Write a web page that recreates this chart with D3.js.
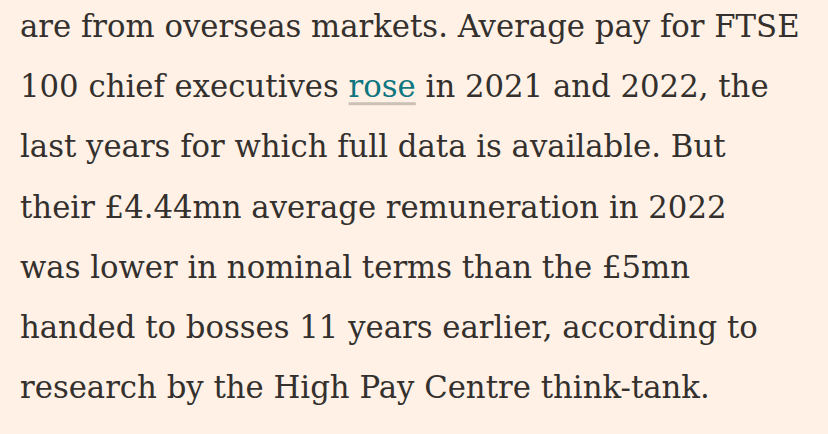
<!DOCTYPE html>
<html>
<head>
<meta charset="utf-8">
<script src="https://cdn.jsdelivr.net/npm/d3@7"></script>
<style>
  html, body { margin: 0; padding: 0; background: #FFF1E5; }
</style>
</head>
<body>
<script>
// Paragraph lines; the link word is marked separately
const lines = [
  'are from overseas markets. Average pay for FTSE',
  '100 chief executives |rose| in 2021 and 2022, the',
  'last years for which full data is available. But',
  'their £4.44mn average remuneration in 2022',
  'was lower in nominal terms than the £5mn',
  'handed to bosses 11 years earlier, according to',
  'research by the High Pay Centre think-tank.'
];
const lineIndex = d3.range(lines.length);

const width = 828;
const height = 434;
const left = 20;
const firstLineWidth = 780;

const y = d3.scaleLinear().domain([0, 1]).range([37, 97.2]);

const svg = d3.select('body')
  .append('svg')
  .attr('width', width)
  .attr('height', height)
  .style('display', 'block');

const fontFamily = 'Georgia, "DejaVu Serif", serif';

// measure the first line to find a font size that spans the same width
const probe = svg.append('text')
  .style('font-family', fontFamily)
  .style('font-size', '30px')
  .text(lines[0]);
const fontSize = 30 * firstLineWidth / probe.node().getComputedTextLength();
probe.remove();

const text = svg.append('g')
  .style('font-family', fontFamily)
  .style('font-size', fontSize + 'px')
  .style('fill', '#33302E');

lineIndex.forEach(i => {
  const t = text.append('text')
    .attr('x', left)
    .attr('y', y(i));
  lines[i].split('|').forEach((part, j) => {
    const span = t.append('tspan').text(part);
    if (j % 2 === 1) {
      span.attr('class', 'link').style('fill', '#0D7680');
    }
  });
});

// underline under the link
text.selectAll('.link').each(function () {
  const box = this.getBBox();
  const row = +d3.select(this.parentNode).attr('y');
  svg.append('rect')
    .attr('x', box.x)
    .attr('y', row + 5)
    .attr('width', box.width)
    .attr('height', 3)
    .style('fill', '#CCC1B7');
});
</script>
</body>
</html>
